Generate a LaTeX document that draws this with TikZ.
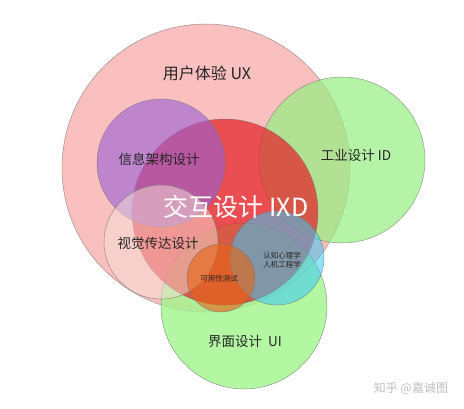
\documentclass[tikz,border=0pt]{standalone}
\usepackage{fontspec}
\newfontfamily\cjk{Noto Sans CJK SC}
\begin{document}
\begin{tikzpicture}[x=1pt,y=-1pt,
  venn/.style={circle,inner sep=0pt,draw=black!55,line width=0.5pt,draw opacity=0.7},
  lbl/.style={font=\cjk,text=black!85,inner sep=0pt}]
\useasboundingbox[fill=white] (0,0) rectangle (464,408);
% circles
\node[venn,minimum size=288pt,fill={rgb,255:red,250;green,188;blue,188},fill opacity=0.95] (ux) at (206,168) {};
\node[venn,minimum size=166pt,fill={rgb,255:red,150;green,240;blue,130},fill opacity=0.7] (id) at (342,160) {};
\node[venn,minimum size=166pt,fill={rgb,255:red,160;green,245;blue,140},fill opacity=0.8] (ui) at (244,306) {};
\node[venn,minimum size=186pt,fill={rgb,255:red,228;green,35;blue,40},fill opacity=0.72] (ixd) at (225,212) {};
\node[venn,minimum size=128pt,fill={rgb,255:red,150;green,95;blue,215},fill opacity=0.6] (ia) at (161,163) {};
\node[venn,minimum size=114pt,fill={rgb,255:red,245;green,225;blue,215},fill opacity=0.5] (vc) at (161,242) {};
\node[venn,minimum size=94pt,fill={rgb,255:red,60;green,200;blue,245},fill opacity=0.55] (cg) at (277,258) {};
\node[venn,minimum size=68pt,fill={rgb,255:red,230;green,100;blue,20},fill opacity=0.6] (us) at (221,278) {};
% labels
\node[lbl,font=\cjk\fontsize{16}{19}\selectfont] (tux) at (207,73) {用户体验 UX};
\node[lbl,font=\cjk\fontsize{13.5}{16}\selectfont] (tia) at (159,159) {信息架构设计};
\node[lbl,font=\cjk\fontsize{13.5}{16}\selectfont] (tid) at (356,155) {工业设计 ID};
\node[lbl,font=\cjk\fontsize{25}{30}\selectfont,text=white] (tixd) at (236,207) {交互设计 IXD};
\node[lbl,font=\cjk\fontsize{13.5}{16}\selectfont] (tvc) at (158,243) {视觉传达设计};
\node[lbl,font=\cjk\fontsize{7.5}{9.5}\selectfont,align=left] (tcg) at (282,260) {认知心理学\\人机工程学};
\node[lbl,font=\cjk\fontsize{7.5}{9}\selectfont] (tus) at (219,279) {可用性测试};
\node[lbl,font=\cjk\fontsize{13.5}{16}\selectfont] (tui) at (245,341) {界面设计\ \ UI};
\node[lbl,font=\cjk\fontsize{12}{14}\selectfont,text=black!25] (wm) at (411,388) {知乎 @嘉诚图};
\end{tikzpicture}
\end{document}
